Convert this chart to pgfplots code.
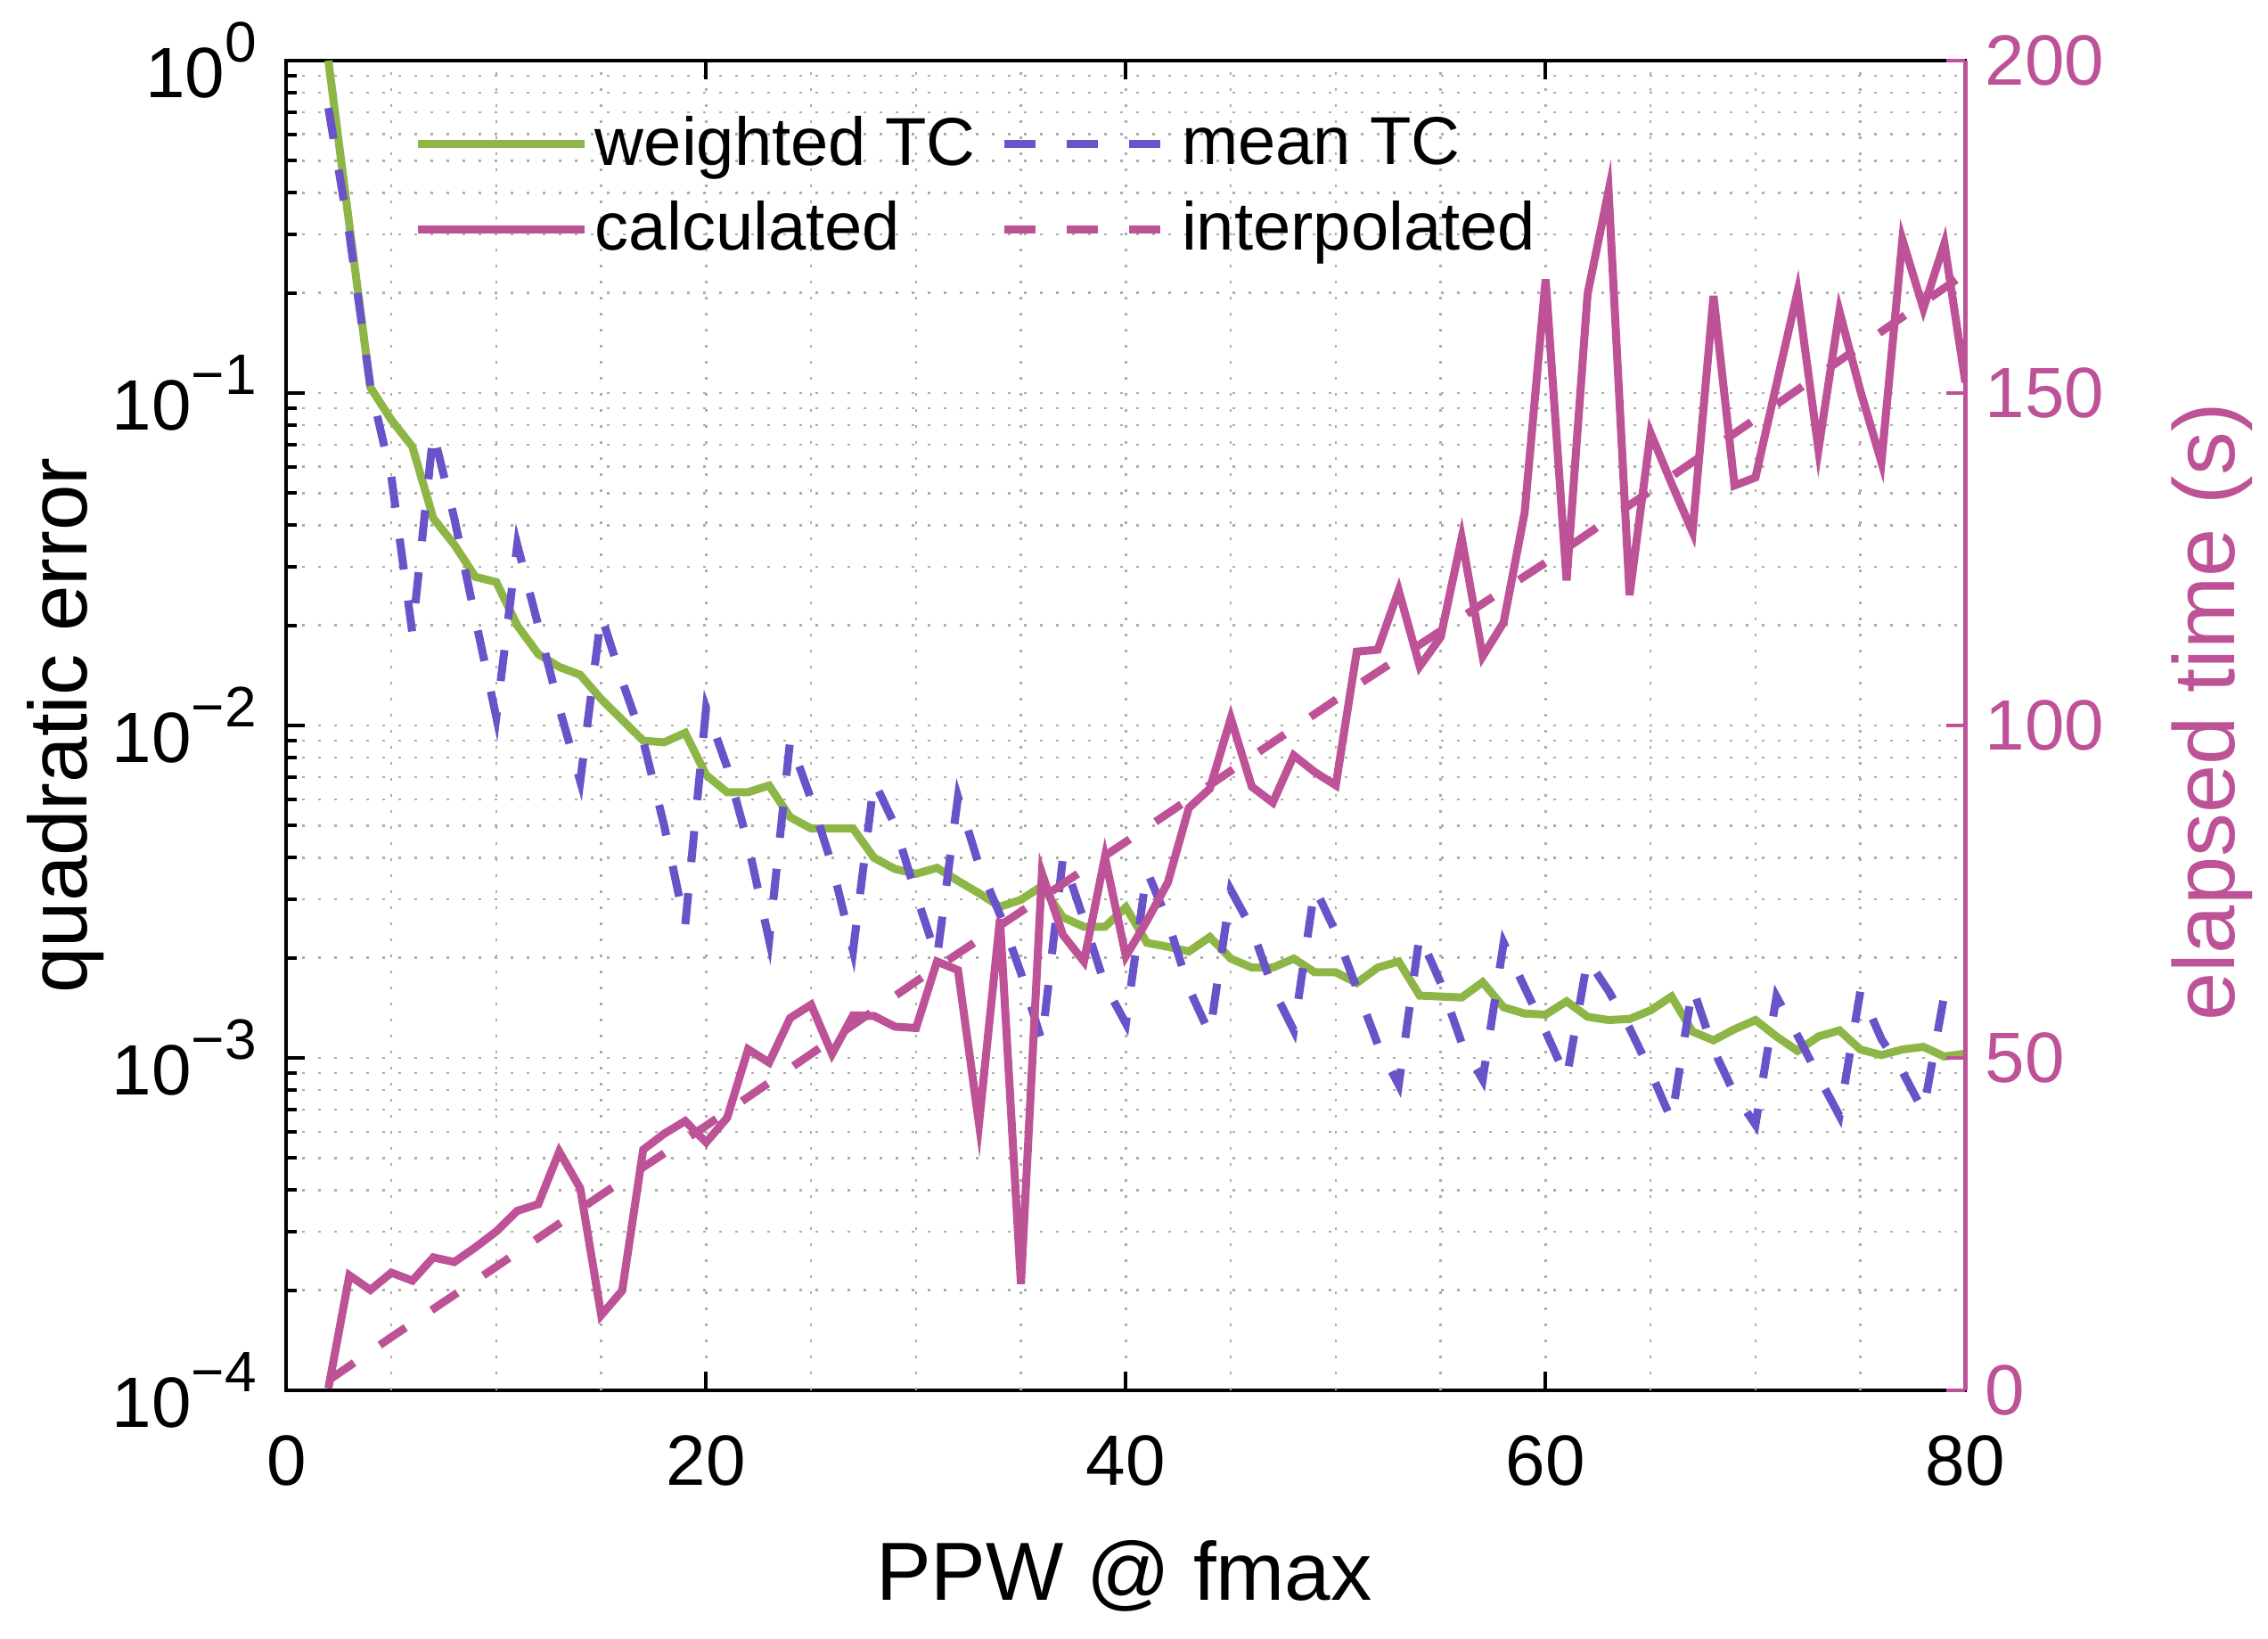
\documentclass[border=0pt]{standalone}
\usepackage{fontspec}
\setmainfont{Liberation Sans}
\usepackage{pgfplots}
\usepackage{pgfplotstable}
\pgfplotsset{compat=1.18}

\definecolor{wgreen}{RGB}{141,182,70}
\definecolor{mblue}{RGB}{106,82,200}
\definecolor{tmag}{RGB}{190,82,150}

\newcommand{\dec}[1]{10\raisebox{0.5em}{\fontsize{12.8}{14}\selectfont #1}}

% quadratic error of both methods
\pgfplotstableread{
x wtc mtc
2 1.0 0.72
3 0.32 0.30
4 0.104 0.105
5 0.083 0.056
6 0.069 0.019
7 0.042 0.076
8 0.035 0.042
9 0.028 0.021
10 0.027 0.0106
11 0.020 0.035
12 0.0164 0.020
13 0.015 0.0113
14 0.0142 0.0068
15 0.012 0.0215
16 0.0104 0.0136
17 0.0090 0.0090
18 0.0089 0.0050
19 0.0095 0.0025
20 0.0071 0.0113
21 0.0063 0.0075
22 0.0063 0.0044
23 0.0066 0.00226
24 0.0053 0.0090
25 0.0049 0.0060
26 0.0049 0.0038
27 0.0049 0.0021
28 0.0040 0.0068
29 0.0037 0.0050
30 0.00358 0.0031
31 0.00373 0.0020
32 0.00341 0.0061
33 0.00313 0.0038
34 0.00285 0.0027
35 0.00299 0.0018
36 0.00329 0.00112
37 0.00265 0.0040
38 0.00248 0.0026
39 0.00248 0.00166
40 0.00284 0.00127
41 0.00222 0.00366
42 0.00216 0.00258
43 0.00209 0.00162
44 0.00231 0.00118
45 0.00199 0.0032
46 0.00187 0.00245
47 0.00187 0.00162
48 0.00199 0.00121
49 0.00181 0.00325
50 0.00181 0.00239
51 0.00168 0.00162
52 0.00187 0.00110
53 0.00195 0.00083
54 0.00154 0.00234
55 0.00153 0.00168
56 0.00152 0.00111
57 0.00169 0.00086
58 0.00142 0.00222
59 0.00136 0.00163
60 0.00135 0.00120
61 0.00148 0.00087
62 0.00133 0.00198
63 0.00130 0.00159
64 0.00131 0.00123
65 0.00139 0.00091
66 0.00153 0.00065
67 0.00120 0.00163
68 0.00113 0.00106
69 0.00122 0.00078
70 0.00130 0.00063
71 0.00116 0.00153
72 0.00105 0.00117
73 0.00116 0.00088
74 0.00121 0.00067
75 0.00106 0.00159
76 0.00102 0.00114
77 0.00106 0.00091
78 0.00108 0.00069
79 0.00101 0.00155
80 0.00103 0.00145
}\errtab

% elapsed time, calculated
\pgfplotstableread{
x t
2 0.3
3 17.3
4 15.1
5 17.7
6 16.5
7 20.0
8 19.3
9 21.5
10 23.9
11 27.0
12 28.0
13 35.9
14 30.4
15 11.3
16 15.0
17 36.2
18 38.6
19 40.5
20 37.3
21 41.0
22 51.3
23 49.3
24 56.0
25 58.0
26 50.6
27 56.4
28 56.3
29 54.7
30 54.5
31 64.5
32 63.2
33 40.1
34 70.9
35 16.0
36 77.8
37 68.5
38 64.5
39 80.2
40 65.3
41 70.6
42 76.4
43 87.6
44 90.5
45 101.1
46 90.8
47 88.4
48 95.5
49 93.0
50 91.0
51 111.1
52 111.4
53 120.3
54 108.9
55 113.3
56 128.2
57 110.4
58 115.5
59 132.0
60 167.1
61 121.8
62 164.9
63 180.4
64 119.6
65 144.0
66 136.4
67 129.1
68 164.6
69 136.1
70 137.3
71 151.3
72 165.2
73 141.5
74 162.3
75 150.3
76 139.6
77 173.1
78 162.7
79 172.5
80 151.6
}\calctab

% elapsed time, interpolated
\pgfplotstableread{
x t
2 1.5
5 8.0
10 18.6
15 29.4
20 39.8
25 50.6
30 61.5
40 82.5
51 106.0
60 124.5
70 146.1
80 168.0
}\interptab

\begin{document}
\begin{tikzpicture}
\pgfplotsset{
  every axis/.append style={
    scale only axis,
    width=376.8pt, height=298.4pt,
    xmin=0, xmax=80,
    tick align=inside,
    major tick length=4.2pt,
    minor tick length=2.3pt,
    every tick/.style={line width=0.8pt},
    /pgf/number format/assume math mode=true,
    tick label style={font=\fontsize{16}{19}\selectfont},
    label style={font=\fontsize{18.5}{22}\selectfont},
  },
}
\begin{semilogyaxis}[
  ymin=1e-4, ymax=1,
  axis line style={line width=0.8pt},
  xtick={0,20,40,60,80},
  xticklabel pos=bottom,
  xticklabel style={yshift=-6.5pt},
  extra x ticks={5,10,15,25,30,35,45,50,55,65,70,75},
  extra x tick labels={},
  extra x tick style={grid=major, major tick length=0pt},
  ytick={1e-4,1e-3,1e-2,1e-1,1},
  yticklabels={\dec{−4},\dec{−3},\dec{−2},\dec{−1},\dec{0}},
  ytick pos=left,
  yticklabel style={xshift=-3.2pt},
  grid=both,
  grid style={gray!65, line width=0.5pt, dash pattern=on 0.6pt off 3pt},
  xlabel={PPW @ fmax},
  xlabel style={at={(axis description cs:0.499,0)}, anchor=base, yshift=-47pt},
  ylabel={quadratic error},
  ylabel style={at={([xshift=-44.8pt]axis description cs:0,0.5)}, anchor=base},
]
\addplot[wgreen, line width=1.8pt] table[x=x, y=wtc] {\errtab};
\addplot[mblue, line width=1.8pt, dash pattern=on 7pt off 7pt] table[x=x, y=mtc] {\errtab};
\end{semilogyaxis}

\begin{axis}[
  ymin=0, ymax=200,
  axis y line*=right,
  axis x line=none,
  y axis line style={tmag, line width=0.9pt},
  ytick={0,50,100,150,200},
  ytick style={tmag},
  yticklabel style={tmag, xshift=0.9pt},
  ylabel={elapsed time (s)},
  ylabel style={tmag, font=\fontsize{19.5}{23}\selectfont,
    at={([xshift=60.5pt]axis description cs:1,0.51)}, anchor=base},
  legend columns=2,
  legend cell align=left,
  legend image code/.code={\draw[#1] (0pt,0pt) -- (37.4pt,0pt);},
  legend style={draw=none, fill=none, font=\fontsize{15.2}{18}\selectfont,
    at={(axis description cs:0.0754,0.9656)}, anchor=north west,
    inner sep=0pt, row sep=2.6pt,
    nodes={inner xsep=1.5pt, inner ysep=2pt},
    /tikz/every even column/.append style={column sep=4.1pt}},
]
\addlegendimage{wgreen, line width=1.8pt}
\addlegendentry{weighted TC}
\addlegendimage{mblue, line width=1.8pt, dash pattern=on 7pt off 7pt}
\addlegendentry{mean TC}
\addplot[tmag, line width=1.8pt] table[x=x, y=t] {\calctab};
\addlegendentry{calculated}
\addplot[tmag, line width=1.8pt, dash pattern=on 7pt off 7pt] table[x=x, y=t] {\interptab};
\addlegendentry{interpolated}
\end{axis}

\pgfresetboundingbox
\path[use as bounding box] (-64.28pt,-55.6pt) rectangle (444.72pt,312pt);
\end{tikzpicture}
\end{document}
